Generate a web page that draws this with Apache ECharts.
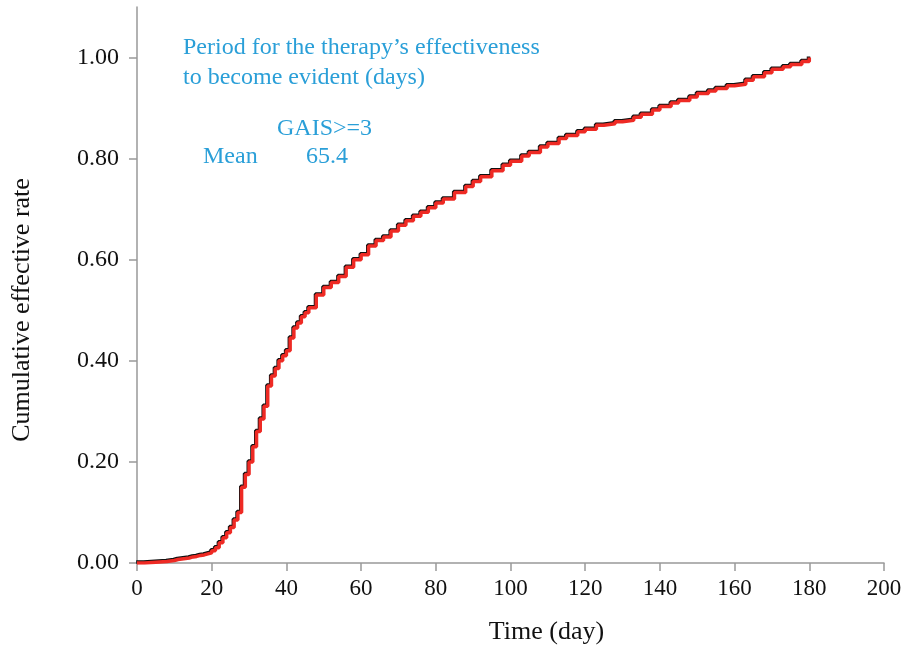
<!DOCTYPE html>
<html>
<head>
<meta charset="utf-8">
<script src="https://cdn.jsdelivr.net/npm/echarts@6/dist/echarts.min.js"></script>
<style>
  html, body { margin: 0; padding: 0; background: #fff; }
  #main { width: 906px; height: 661px; }
</style>
</head>
<body>
<div id="main"></div>
<script>
var days = [0, 2, 4, 6, 8, 10, 11, 12, 13, 14, 15, 16, 17, 18, 19, 20, 21, 22, 23,
  24, 25, 26, 27, 28, 29, 30,
  31, 32, 33, 34, 35, 36, 37, 38, 39, 40, 41, 42, 43, 44, 45, 46, 48, 50, 52, 54,
  56, 58, 60, 62, 64, 66, 68, 70, 72, 74, 76, 78, 80, 82, 85, 88, 90, 92, 95, 98,
  100, 103, 105, 108, 110, 113, 115, 118, 120, 123, 125, 128, 130, 133, 135, 138,
  140, 143, 145, 148, 150, 153, 155, 158, 160, 163, 165, 168, 170, 173, 175, 178, 180];
var rates = [0.000, 0.001, 0.002, 0.003, 0.005, 0.007, 0.008, 0.009, 0.010, 0.012,
  0.013, 0.015, 0.016, 0.018, 0.020, 0.024, 0.030, 0.040,
  0.050, 0.060, 0.070, 0.085, 0.100, 0.150, 0.175, 0.200, 0.230, 0.260, 0.285,
  0.310, 0.350, 0.370, 0.385, 0.400, 0.410, 0.420, 0.445, 0.465, 0.475, 0.487,
  0.495, 0.505, 0.530, 0.545, 0.555, 0.567, 0.585, 0.600, 0.610, 0.627, 0.638,
  0.645, 0.657, 0.668, 0.677, 0.686, 0.694, 0.703, 0.712, 0.720, 0.733, 0.745,
  0.755, 0.764, 0.776, 0.787, 0.795, 0.805, 0.812, 0.823, 0.830, 0.840, 0.846,
  0.853, 0.858, 0.866, 0.869, 0.873, 0.876, 0.882, 0.888, 0.896, 0.903, 0.910,
  0.915, 0.922, 0.929, 0.934, 0.939, 0.944, 0.947, 0.955, 0.962, 0.970, 0.977,
  0.982, 0.986, 0.992, 1.000];
var yTicks = [0, 0.2, 0.4, 0.6, 0.8, 1.0];

var serif = '"Liberation Serif", "DejaVu Serif", serif';
var blue = '#2a9fd8';

var chart = echarts.init(document.getElementById('main'));

var points = days.map(function (d, i) { return [d, rates[i]]; });

var option = {
    backgroundColor: '#fff',
    animation: false,
    grid: {
        left: 137,
        right: 22,
        top: 7,
        bottom: 98,
        outerBoundsMode: 'none'
    },
    xAxis: {
        type: 'value',
        min: 0,
        max: 200,
        interval: 20,
        name: 'Time (day)',
        nameLocation: 'middle',
        nameGap: 56,
        nameTextStyle: {
            fontFamily: serif,
            fontSize: 26,
            color: '#111',
            padding: [0, 0, 0, 72]
        },
        axisLine: { lineStyle: { color: '#999', width: 1.5 } },
        axisTick: { length: 8, lineStyle: { color: '#999', width: 1.5 } },
        axisLabel: {
            fontFamily: serif,
            fontSize: 23,
            color: '#111',
            margin: 14
        },
        splitLine: { show: false }
    },
    yAxis: {
        type: 'value',
        min: 0,
        max: 1.1,
        name: 'Cumulative effective rate',
        nameLocation: 'middle',
        nameGap: 102,
        nameTextStyle: {
            fontFamily: serif,
            fontSize: 26,
            color: '#111',
            padding: [0, 50, 0, 0]
        },
        nameRotate: 90,
        axisLine: { show: true, lineStyle: { color: '#999', width: 1.5 } },
        axisTick: {
            show: true,
            length: 8,
            customValues: yTicks,
            lineStyle: { color: '#999', width: 1.5 }
        },
        axisLabel: {
            customValues: yTicks,
            fontFamily: serif,
            fontSize: 24,
            color: '#111',
            margin: 18,
            formatter: function (v) { return v.toFixed(2); }
        },
        splitLine: { show: false }
    },
    graphic: [
        {
            type: 'text', left: 183, top: 33,
            style: {
                text: 'Period for the therapy\u2019s effectiveness\nto become evident (days)',
                fill: blue, font: '24px ' + serif, lineHeight: 30
            }
        },
        {
            type: 'text', left: 277, top: 117,
            style: { text: 'GAIS>=3', fill: blue, font: '24px ' + serif }
        },
        {
            type: 'text', left: 203, top: 145,
            style: { text: 'Mean', fill: blue, font: '24px ' + serif }
        },
        {
            type: 'text', left: 306, top: 145,
            style: { text: '65.4', fill: blue, font: '24px ' + serif }
        }
    ],
    series: [
        {
            type: 'line',
            step: 'end',
            data: points,
            showSymbol: false,
            lineStyle: {
                color: '#ee2a24',
                width: 3.5,
                shadowColor: '#111',
                shadowBlur: 0,
                shadowOffsetX: -0.8,
                shadowOffsetY: -1
            }
        }
    ]
};
chart.setOption(option);
</script>
</body>
</html>
